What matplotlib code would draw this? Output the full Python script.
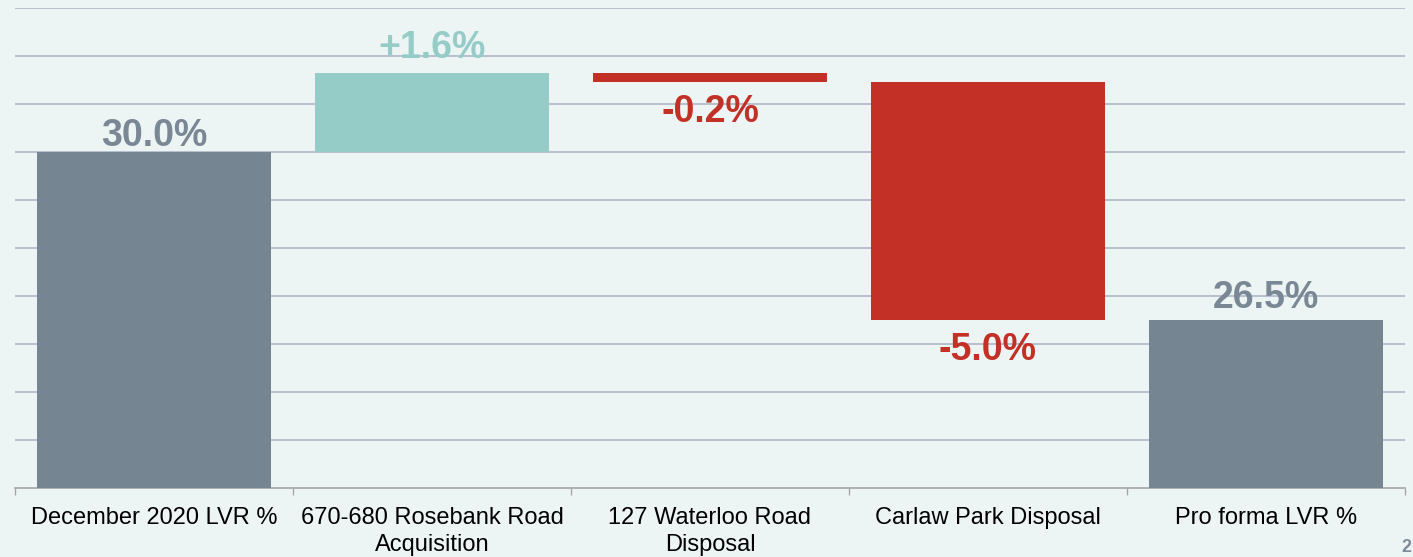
import matplotlib
matplotlib.use("Agg")
import matplotlib.pyplot as plt
import numpy as np

# datos del waterfall
categorias = ["December 2020 LVR %", "670-680 Rosebank Road\nAcquisition",
              "127 Waterloo Road\nDisposal", "Carlaw Park Disposal", "Pro forma LVR %"]
valores = [30.0, 1.64, -0.19, -4.95, 26.5]
tipos = ["total", "delta", "delta", "delta", "total"]
etiquetas = ["30.0%", "+1.6%", "-0.2%", "-5.0%", "26.5%"]

# colores
FONDO = "#EDF5F4"
GRIS = "#768592"
TEAL = "#95CCC8"
ROJO = "#C33026"
GRIS_TXT = "#7A8794"

plt.rcParams['font.family'] = ['Liberation Sans', 'DejaVu Sans']

fig = plt.figure(figsize=(14.13, 5.57), dpi=100, facecolor=FONDO)
ax = fig.add_axes([15 / 1413, 1 - 488 / 557, 1390 / 1413, 480 / 557])
ax.set_facecolor(FONDO)

x = np.arange(len(categorias))
acumulado = 0.0
for i, (v, t, txt) in enumerate(zip(valores, tipos, etiquetas)):
    if t == "total":
        base, alto = 0.0, v
        acumulado = v
        color, ctxt = GRIS, GRIS_TXT
    else:
        base = acumulado
        alto = v
        acumulado += v
        color = TEAL if v > 0 else ROJO
        ctxt = color
    ax.bar(x[i], alto, bottom=base, width=0.84, color=color, zorder=3)
    tope = max(base, base + alto)
    fondo = min(base, base + alto)
    # posicion de la etiqueta (arriba para subidas/totales, abajo para bajadas)
    if t == "total" or v > 0:
        off = {0: 4.5, 1: 11, 4: 8.5}[i]
        ax.annotate(txt, (x[i], tope), xytext=(0, off), textcoords="offset points",
                    ha="center", va="baseline", fontsize=27, fontweight="bold",
                    color=ctxt, zorder=4)
    else:
        ax.annotate(txt, (x[i], fondo), xytext=(0, -28.5), textcoords="offset points",
                    ha="center", va="baseline", fontsize=27, fontweight="bold",
                    color=ctxt, zorder=4)

ax.set_ylim(23, 33)
ax.set_xlim(-0.5, len(categorias) - 0.5)
ax.set_yticks(np.arange(24, 34, 1))
ax.yaxis.grid(True, color="#B3BBCA", linewidth=1.3, zorder=0)
ax.tick_params(axis="y", left=False, labelleft=False)

# ticks en los limites de categoria, etiquetas al centro
ax.set_xticks(np.arange(-0.5, len(categorias), 1))
ax.set_xticklabels([])
ax.tick_params(axis="x", which="major", length=5, width=1, color="#A6A6A6")
ax.set_xticks(x, minor=True)
ax.set_xticklabels(categorias, minor=True, fontsize=17, linespacing=1.25)
ax.tick_params(axis="x", which="minor", length=0, pad=14)

for lado in ["top", "right", "left"]:
    ax.spines[lado].set_visible(False)
ax.spines["bottom"].set_color("#A6A6A6")
ax.spines["bottom"].set_linewidth(1.2)

# numero de pagina
fig.text(1411 / 1413, 1 / 557, "2", ha="right", va="bottom", fontsize=13,
         fontweight="bold", color="#7F8C97")

fig.savefig("out.png", dpi=100, facecolor=FONDO)
